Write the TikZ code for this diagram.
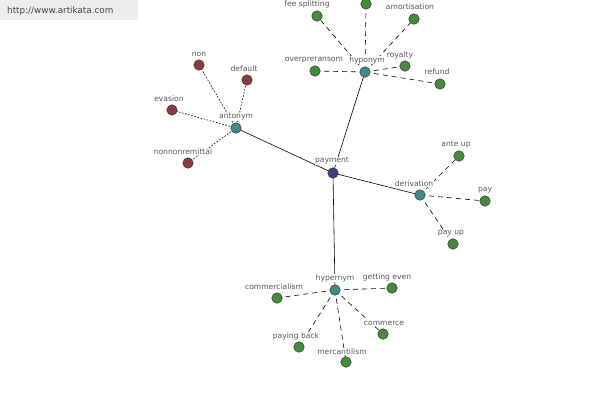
\documentclass[tikz,border=0pt]{standalone}
\usepackage{fontspec}
\setmainfont{DejaVu Sans}
\definecolor{cblue}{HTML}{404088}
\definecolor{cteal}{HTML}{3E8A8A}
\definecolor{cgreen}{HTML}{468A3C}
\definecolor{cred}{HTML}{8A3A40}
\definecolor{ctext}{HTML}{555555}
\begin{document}
\begin{tikzpicture}[x=1pt,y=-1pt,
  dot/.style={circle,draw=black!80,line width=0.5pt,minimum size=10.5pt,inner sep=0pt},
  centre/.style={dot,fill=cblue},
  cat/.style={dot,fill=cteal},
  leaf/.style={dot,fill=cgreen},
  red leaf/.style={dot,fill=cred},
  lbl/.style={font=\fontsize{7.6}{8}\selectfont,text=ctext,inner sep=0pt},
  solidline/.style={draw=black,line width=0.6pt},
  dashline/.style={draw=black,line width=0.6pt,dash pattern=on 5pt off 4pt},
  dotline/.style={draw=black,line width=0.6pt,dash pattern=on 1.6pt off 1.6pt}]
\useasboundingbox (0,0) rectangle (600,400);
\fill[black!7] (0,0) rectangle (138,20);
\node[lbl,anchor=west,font=\fontsize{8.8}{10}\selectfont,text=black!75] (wm) at (7,11) {http://www.artikata.com};

% centre and categories
\coordinate (payment) at (333,173);
\coordinate (hyponym) at (365,72);
\coordinate (antonym) at (236,128);
\coordinate (derivation) at (420,195);
\coordinate (hypernym) at (335,290);

% hyponym leaves
\coordinate (fee) at (317,16);
\coordinate (top) at (366,4);
\coordinate (amort) at (414,19);
\coordinate (over) at (315,71);
\coordinate (roy) at (405,66);
\coordinate (ref) at (440,84);
% antonym leaves
\coordinate (non) at (199,65);
\coordinate (def) at (247,80);
\coordinate (eva) at (172,110);
\coordinate (nnr) at (188,163);
% derivation leaves
\coordinate (ante) at (459,156);
\coordinate (pay) at (485,201);
\coordinate (payup) at (453,244);
% hypernym leaves
\coordinate (comm) at (277,298);
\coordinate (get) at (392,288);
\coordinate (commerce) at (383,334);
\coordinate (pb) at (299,347);
\coordinate (merc) at (346,362);

% connectors
\draw[solidline] (payment) -- (hyponym);
\draw[solidline] (payment) -- (antonym);
\draw[solidline] (payment) -- (derivation);
\draw[solidline] (payment) -- (hypernym);
\foreach \l in {fee,top,amort,over,roy,ref} \draw[dashline] (hyponym) -- (\l);
\foreach \l in {non,def,eva,nnr} \draw[dotline] (antonym) -- (\l);
\foreach \l in {ante,pay,payup} \draw[dashline] (derivation) -- (\l);
\foreach \l in {comm,get,commerce,pb,merc} \draw[dashline] (hypernym) -- (\l);

% labels
\tikzset{wl/.style={lbl,fill=white,inner sep=0.5pt}}
\node[wl] (Lpayment) at (332,161) {payment};
\node[wl] (Lhyponym) at (367,60) {hyponym};
\node[wl] (Lantonym) at (236,117) {antonym};
\node[wl] (Lderivation) at (414,184) {derivation};
\node[wl] (Lhypernym) at (335,278) {hypernym};
\node[wl] (Lfee) at (307,4) {fee splitting};
\node[wl] (Lamort) at (410,7) {amortisation};
\node[wl] (Lover) at (314,60) {overpreransom};
\node[wl] (Lroy) at (400,55) {royalty};
\node[wl] (Lref) at (437,72) {refund};
\node[wl] (Lnon) at (199,54) {non};
\node[wl] (Ldef) at (244,69) {default};
\node[wl] (Leva) at (169,99) {evasion};
\node[wl] (Lnnr) at (183,152) {nonnonremittal};
\node[wl] (Lante) at (456,145) {ante up};
\node[wl] (Lpay) at (485,190) {pay};
\node[wl] (Lpayup) at (451,233) {pay up};
\node[wl] (Lcomm) at (274,287) {commercialism};
\node[wl] (Lget) at (387,277) {getting even};
\node[wl] (Lcommerce) at (384,323) {commerce};
\node[wl] (Lpb) at (296,336) {paying back};
\node[wl] (Lmerc) at (342,352) {mercantilism};

% dots
\node[centre] (Npayment) at (payment) {};
\node[cat] (Nhyponym) at (hyponym) {};
\node[cat] (Nantonym) at (antonym) {};
\node[cat] (Nderivation) at (derivation) {};
\node[cat] (Nhypernym) at (hypernym) {};
\foreach \l in {fee,top,amort,over,roy,ref,ante,pay,payup,comm,get,commerce,pb,merc}
  \node[leaf] (N\l) at (\l) {};
\foreach \l in {non,def,eva,nnr}
  \node[red leaf] (N\l) at (\l) {};
\end{tikzpicture}
\end{document}
